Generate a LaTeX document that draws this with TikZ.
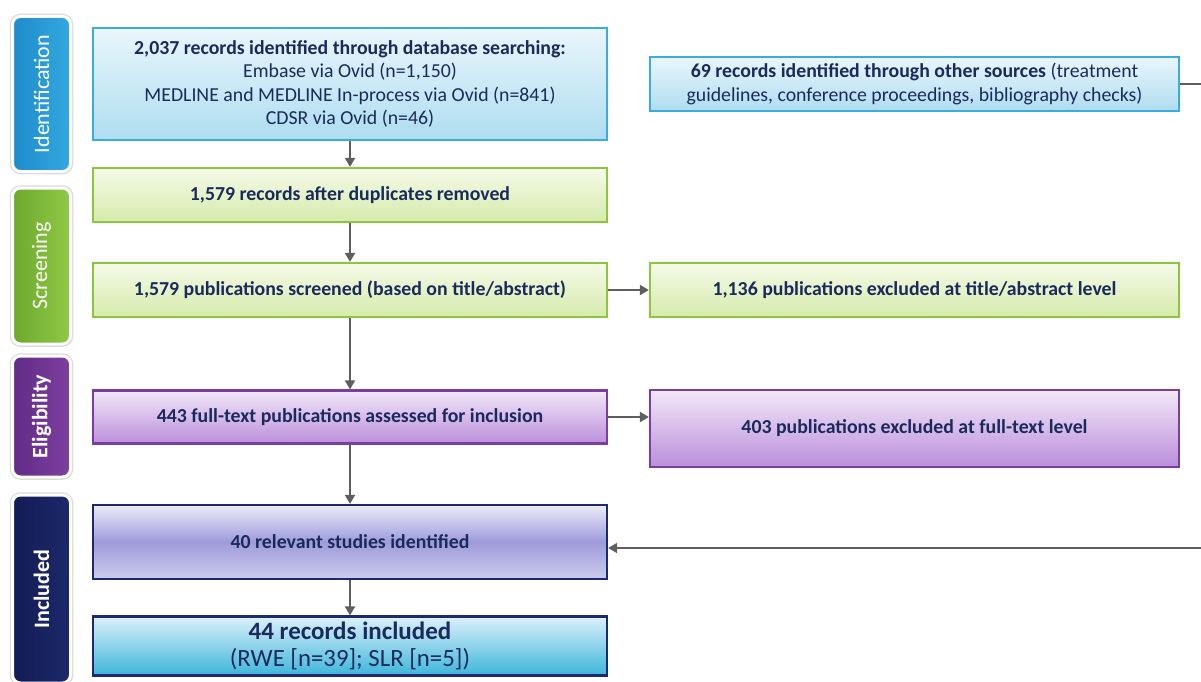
\documentclass[tikz,border=0pt]{standalone}
\usepackage{fontspec}
\setmainfont{Carlito}
\usetikzlibrary{shadows,arrows.meta}

\definecolor{ink}{HTML}{1B2A5C}
\definecolor{linegray}{HTML}{5E5E5E}
\definecolor{bluebd}{HTML}{3AACDD}
\definecolor{bluetop}{HTML}{EAF6FC}
\definecolor{bluebot}{HTML}{AEDDF0}
\definecolor{greenbd}{HTML}{8CC63F}
\definecolor{greentop}{HTML}{F5FAE8}
\definecolor{greenbot}{HTML}{D6EBAC}
\definecolor{purplebd}{HTML}{7B3E9E}
\definecolor{purpletop}{HTML}{F2E8F8}
\definecolor{purplebot}{HTML}{BB8EDB}
\definecolor{navybd}{HTML}{1C2A6E}
\definecolor{violettop}{HTML}{ECECF8}
\definecolor{violetmid}{HTML}{9E9BDB}
\definecolor{cyantop}{HTML}{DCF1F9}
\definecolor{cyanbot}{HTML}{3DB5DB}
\definecolor{tabblue}{HTML}{33A8E0}
\definecolor{tabblueb}{HTML}{1F8CCB}
\definecolor{tabgreen}{HTML}{90C945}
\definecolor{tabgreenb}{HTML}{6DA82E}
\definecolor{tabpurple}{HTML}{7E3FA0}
\definecolor{tabpurpleb}{HTML}{612C86}
\definecolor{tabnavy}{HTML}{1C296A}
\definecolor{tabnavyb}{HTML}{131C55}

\tikzset{
  box/.style={rectangle, line width=2.2pt, align=center, text=ink,
    inner sep=2pt, font=\fontsize{19.8}{23.5}\selectfont},
  boldtext/.style={font=\fontsize{19.8}{23.5}\selectfont\bfseries},
  mainbox/.style={box, minimum width=514pt},
  sidebox/.style={box, minimum width=529pt},
  bluebox/.style={draw=bluebd, top color=bluetop, bottom color=bluebot},
  greenbox/.style={draw=greenbd, top color=greentop, bottom color=greenbot},
  purplebox/.style={draw=purplebd, top color=purpletop, bottom color=purplebot},
  violetbox/.style={draw=navybd, top color=violettop, bottom color=violettop!60!violetmid,
    middle color=violetmid},
  cyanbox/.style={draw=navybd, top color=cyantop, bottom color=cyanbot},
  flow/.style={draw=linegray, line width=1.8pt,
    -{Triangle[length=9pt,width=10pt]}},
  plainline/.style={draw=linegray, line width=1.8pt},
  tab/.style={rectangle, rounded corners=8pt, draw=white, line width=3pt,
    rotate=90, minimum height=58pt, text=white, inner sep=0pt,
    font=\fontsize{22}{24}\selectfont,
    preaction={draw=black!14, line width=5.5pt},
    drop shadow={opacity=0.25, shadow xshift=1.2pt, shadow yshift=-1.5pt}},
  boldtab/.style={font=\fontsize{22}{24}\selectfont\bfseries}
}

\begin{document}
\begin{tikzpicture}[x=1pt, y=-1pt]
  \useasboundingbox (0,0) rectangle (1201,682);

  % phase tabs on the left
  \node[tab, minimum width=155pt, left color=tabblueb, right color=tabblue]
    (tabid) at (41.5,94) {Identification};
  \node[tab, minimum width=156pt, left color=tabgreenb, right color=tabgreen]
    (tabsc) at (41.5,266) {Screening};
  \node[tab, boldtab, minimum width=121pt, left color=tabpurpleb, right color=tabpurple]
    (tabel) at (41.5,416.5) {Eligibility};
  \node[tab, boldtab, minimum width=188pt, left color=tabnavyb, right color=tabnavy]
    (tabin) at (41.5,589) {Included};

  % main flow
  \node[mainbox, bluebox, minimum height=112pt] (db) at (350,84)
    {\textbf{2,037 records identified through database searching:}\\
     Embase via Ovid (n=1,150)\\
     MEDLINE and MEDLINE In-process via Ovid (n=841)\\
     CDSR via Ovid (n=46)};
  \node[mainbox, greenbox, boldtext, minimum height=54pt] (dedup) at (350,195)
    {1,579 records after duplicates removed};
  \node[mainbox, greenbox, boldtext, minimum height=54pt] (screen) at (350,290)
    {1,579 publications screened (based on title/abstract)};
  \node[mainbox, purplebox, boldtext, minimum height=53pt] (full) at (350,417)
    {443 full-text publications assessed for inclusion};
  \node[mainbox, violetbox, boldtext, minimum height=74pt] (relevant) at (350,542)
    {40 relevant studies identified};
  \node[mainbox, cyanbox, minimum height=59pt] (incl) at (350,646)
    {\fontsize{25}{28}\selectfont\bfseries 44 records included\\[4pt]
     \fontsize{24.8}{28}\selectfont (RWE [n=39]; SLR [n=5])};

  % side boxes
  \node[sidebox, bluebox, minimum height=54pt] (other) at (914.5,84)
    {\textbf{69 records identified through other sources} (treatment\\
     guidelines, conference proceedings, bibliography checks)};
  \node[sidebox, greenbox, boldtext, minimum height=54pt] (excta) at (914.5,290)
    {1,136 publications excluded at title/abstract level};
  \node[sidebox, purplebox, boldtext, minimum height=77pt] (excft) at (914.5,428.5)
    {403 publications excluded at full-text level};

  % free ends at the right edge
  \coordinate (otherend) at (1201,84);
  \coordinate (relevantin) at (1201,548);

  % connectors
  \draw[flow] (db) -- (dedup);
  \draw[flow] (dedup) -- (screen);
  \draw[flow] (screen) -- (full);
  \draw[flow] (full) -- (relevant);
  \draw[flow] (relevant) -- (incl);
  \draw[flow] (screen) -- (excta);
  \draw[flow] (full.east) -- (full.east -| excft.west);
  \draw[plainline] (other) -- (otherend);
  \draw[flow] (relevantin) -- (relevantin -| relevant.east);
\end{tikzpicture}
\end{document}
